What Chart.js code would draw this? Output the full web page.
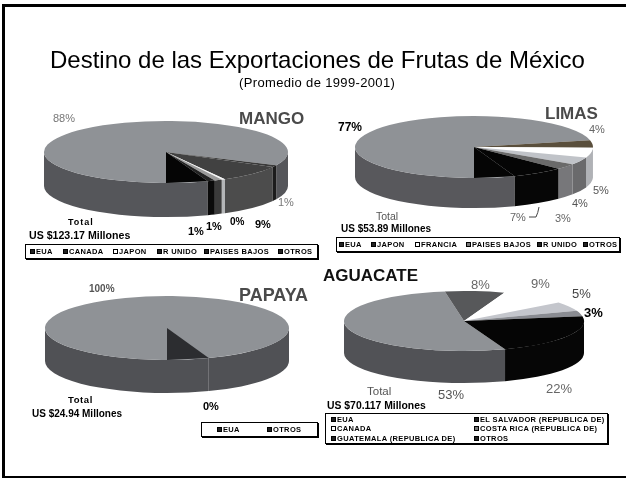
<!DOCTYPE html>
<html>
<head>
<meta charset="utf-8">
<title>Destino de las Exportaciones de Frutas de México</title>
<script src="https://cdn.jsdelivr.net/npm/chart.js@4"></script>
<style>
  html, body { margin: 0; padding: 0; background: #fff; }
  #page { position: relative; width: 626px; height: 478px; overflow: hidden; font-family: "Liberation Sans", Arial, sans-serif; color: #000; }
  /* border runs off the right edge */
  #frame { position: absolute; left: 2px; top: 4px; width: 640px; height: 469px; border: 3px solid #000; }
  canvas { position: absolute; }
  svg { position: absolute; }
  .txt { position: absolute; white-space: nowrap; line-height: 1; }
  .legend { position: absolute; border: 1px solid #000; box-shadow: 1px 1px 0 #000; background: #fff; font-size: 7.5px; font-weight: bold; letter-spacing: .35px; box-sizing: border-box; }
  .legend span { position: absolute; white-space: nowrap; line-height: 9px; }
  .legend i { display: inline-block; width: 5px; height: 5px; margin-right: 1px; box-sizing: border-box; border: 1px solid #000; vertical-align: 0; }
</style>
</head>
<body>
<div id="page"><div id="frame"></div></div>
<script>
// ─── Destino de las exportaciones ───
const title = 'Destino de las Exportaciones de Frutas de México';
const subtitle = '(Promedio de 1999-2001)';

// Values run clockwise from the EUA slice
const mangoLabels = ['EUA', 'OTROS', 'CANADA', 'JAPON', 'R UNIDO', 'PAISES BAJOS'];
const mangoValues = [88, 1, 9, 0.49, 1, 1];
const mangoLegend = ['EUA', 'CANADA', 'JAPON', 'R UNIDO', 'PAISES BAJOS', 'OTROS'];

const limasLabels = ['EUA', 'JAPON', 'FRANCIA', 'PAISES BAJOS', 'R UNIDO', 'OTROS'];
const limasValues = [77, 4, 5, 4, 3, 7];

const papayaLabels = ['EUA', 'OTROS'];
const papayaValues = [100, 0];

const aguacateLabels = ['EUA', 'EL SALVADOR (REPUBLICA DE)', 'CANADA', 'COSTA RICA (REPUBLICA DE)', 'GUATEMALA (REPUBLICA DE)', 'OTROS'];
const aguacateValues = [53, 8, 9, 5, 3, 22];

// top colour / wall colour for each slice
const mangoTop = ['#8f9296', '#3a3a3a', '#414141', '#f4f4f4', '#9a9a9a', '#222222'];
const mangoSide = ['#55565a', '#1c1c1c', '#4c4c4c', '#b4b6b8', '#3a3a3a', '#0a0a0a'];
const limasTop = ['#8f9296', '#5a4f3c', '#ffffff', '#c0c3c8', '#6a6a6a', '#050505'];
const limasSide = ['#58585c', '#96989c', '#b0b2b6', '#6a6a6c', '#77777a', '#060606'];
const papayaTop = ['#8f9296', '#333333'];
const papayaSide = ['#505155', '#333333'];
const aguacateTop = ['#8f9296', '#57585a', '#ffffff', '#c4c6cc', '#8a8c92', '#050505'];
const aguacateSide = ['#515256', '#303030', '#d0d0d0', '#888888', '#555555', '#060606'];

const PIES = [
  { id: 'mango', labels: mangoLabels, values: mangoValues, top: mangoTop, side: mangoSide, cx: 166, cy: 152, rx: 122, ry: 31, depth: 34, notch: '#050505' },
  { id: 'limas', labels: limasLabels, values: limasValues, top: limasTop, side: limasSide, cx: 474, cy: 147, rx: 119, ry: 31, depth: 30, notch: '#050505' },
  { id: 'papaya', labels: papayaLabels, values: papayaValues, top: papayaTop, side: papayaSide, cx: 167, cy: 328, rx: 122, ry: 32, depth: 33, notch: '#2c2d30' },
  { id: 'aguacate', labels: aguacateLabels, values: aguacateValues, top: aguacateTop, side: aguacateSide, cx: 464, cy: 321, rx: 120, ry: 30, depth: 32, notch: null }
];

// EUA starts just right of straight down on all four pies
const START_ANGLE = 160;

// Chart.js only draws round pies, so flatten around the centre and add the walls by hand
const pie3d = {
  id: 'pie3d',
  beforeDatasetsDraw(chart, args, opts) {
    const ctx = chart.ctx;
    const arcs = chart.getDatasetMeta(0).data;
    const k = opts.ry / opts.rx;
    arcs.forEach(function(arc, i) {
      // arc angles are canvas radians, 0 to PI is the front half
      const segs = [[arc.startAngle, arc.endAngle]];
      if (arc.endAngle > Math.PI * 2) segs.push([arc.startAngle - Math.PI * 2, arc.endAngle - Math.PI * 2]);
      segs.forEach(function(seg) {
        const a = Math.max(seg[0], 0), b = Math.min(seg[1], Math.PI);
        if (b <= a) return;
        ctx.beginPath();
        ctx.ellipse(arc.x, arc.y, opts.rx, opts.ry, 0, a, b);
        ctx.ellipse(arc.x, arc.y + opts.depth, opts.rx, opts.ry, 0, b, a, true);
        ctx.closePath();
        ctx.fillStyle = opts.side[i];
        ctx.fill();
      });
    });
    ctx.save();
    ctx.translate(chart.width / 2, chart.height / 2);
    ctx.scale(1, k);
    ctx.translate(-chart.width / 2, -chart.height / 2);
  },
  afterDatasetsDraw(chart, args, opts) {
    const ctx = chart.ctx;
    ctx.restore();
    if (!opts.notch) return;
    // dark wedge between the start of the EUA slice and straight down
    const arc = chart.getDatasetMeta(0).data[0];
    const a = arc.startAngle;
    ctx.beginPath();
    ctx.moveTo(arc.x, arc.y);
    ctx.lineTo(arc.x + Math.cos(a) * opts.rx, arc.y + Math.sin(a) * opts.ry);
    ctx.lineTo(arc.x, arc.y + opts.ry);
    ctx.closePath();
    ctx.fillStyle = opts.notch;
    ctx.fill();
  }
};

const page = document.getElementById('page');

// y is the vertical middle of the text
function addText(str, x, y, size, css) {
  const el = document.createElement('div');
  el.className = 'txt';
  el.textContent = str;
  el.style.left = x + 'px';
  el.style.top = (y - size / 2) + 'px';
  el.style.fontSize = size + 'px';
  if (css) el.style.cssText += css;
  page.appendChild(el);
}

function addPie(p) {
  const size = p.rx * 2 + 4;
  const canvas = document.createElement('canvas');
  canvas.id = p.id + 'Chart';
  canvas.width = size;
  canvas.height = size;
  canvas.style.left = (p.cx - size / 2) + 'px';
  canvas.style.top = (p.cy - size / 2) + 'px';
  page.appendChild(canvas);
  new Chart(canvas.getContext('2d'), {
    type: 'pie',
    data: {
      labels: p.labels,
      datasets: [{ data: p.values, backgroundColor: p.top, borderWidth: 0 }]
    },
    options: {
      responsive: false,
      animation: false,
      rotation: START_ANGLE,
      radius: p.rx,
      events: [],
      plugins: {
        legend: { display: false },
        tooltip: { enabled: false },
        pie3d: { ry: p.ry, rx: p.rx, depth: p.depth, side: p.side, notch: p.notch }
      }
    },
    plugins: [pie3d]
  });
}

function addLegend(x, y, w, h, labels, colors, spots) {
  const box = document.createElement('div');
  box.className = 'legend';
  box.style.cssText = 'left:' + x + 'px;top:' + y + 'px;width:' + w + 'px;height:' + h + 'px';
  labels.forEach(function(name, i) {
    const item = document.createElement('span');
    item.style.left = spots[i][0] + 'px';
    item.style.top = spots[i][1] + 'px';
    const sw = document.createElement('i');
    sw.style.background = colors[i];
    item.appendChild(sw);
    item.appendChild(document.createTextNode(name));
    box.appendChild(item);
  });
  page.appendChild(box);
}

function pctText(v) { return Math.round(v) + '%'; }

PIES.forEach(addPie);

addText(title, 50, 60, 24);
addText(subtitle, 239, 82, 13, 'letter-spacing:.35px;');

// fruit names
addText('MANGO', 239, 118, 17, 'font-weight:bold;color:#4a4a4a;');
addText('LIMAS', 545, 113, 17, 'font-weight:bold;color:#4a4a4a;');
addText('PAPAYA', 239, 295, 18, 'font-weight:bold;color:#4a4a4a;');
addText('AGUACATE', 323, 275, 17, 'font-weight:bold;color:#111;');

// totals
addText('Total', 68, 222, 9, 'font-weight:bold;letter-spacing:1px;');
addText('US $123.17 Millones', 29, 235, 10.6, 'font-weight:bold;');
addText('Total', 376, 216, 10.5, 'color:#555;');
addText('US $53.89 Millones', 341, 229, 10, 'font-weight:bold;');
addText('Total', 68, 400, 9.5, 'font-weight:bold;letter-spacing:.6px;');
addText('US $24.94 Millones', 32, 414, 10, 'font-weight:bold;');
addText('Total', 367, 392, 11.5, 'color:#555;');
addText('US $70.117 Millones', 327, 406, 10.4, 'font-weight:bold;');

// percentage labels
addText(pctText(mangoValues[0]), 53, 118, 11, 'color:#777;');
addText(pctText(mangoValues[1]), 278, 202, 11, 'color:#777;');
addText(pctText(mangoValues[2]), 255, 224, 11, 'font-weight:bold;');
addText(pctText(mangoValues[3]), 230, 222, 10, 'font-weight:bold;');
addText(pctText(mangoValues[4]), 206, 226, 11, 'font-weight:bold;');
addText(pctText(mangoValues[5]), 188, 231, 11, 'font-weight:bold;');

addText(pctText(limasValues[0]), 338, 127, 12, 'font-weight:bold;');
addText(pctText(limasValues[1]), 589, 129, 11, 'color:#666;');
addText(pctText(limasValues[2]), 593, 190, 11, 'color:#555;');
addText(pctText(limasValues[3]), 572, 203, 11, 'color:#555;');
addText(pctText(limasValues[4]), 555, 218, 11, 'color:#666;');
addText(pctText(limasValues[5]), 510, 217, 11, 'color:#666;');

addText(pctText(papayaValues[0]), 89, 289, 10, 'font-weight:bold;color:#555;');
addText(pctText(papayaValues[1]), 203, 406, 11, 'font-weight:bold;');

addText(pctText(aguacateValues[0]), 438, 394, 13, 'color:#555;');
addText(pctText(aguacateValues[1]), 471, 284, 13, 'color:#666;');
addText(pctText(aguacateValues[2]), 531, 283, 13, 'color:#666;');
addText(pctText(aguacateValues[3]), 572, 293, 13, 'color:#444;');
addText(pctText(aguacateValues[4]), 584, 312, 13, 'font-weight:bold;');
addText(pctText(aguacateValues[5]), 546, 388, 13, 'color:#666;');

// leader from the 7% label up to the slice
page.insertAdjacentHTML('beforeend',
  '<svg width="16" height="16" style="left:528px;top:205px"><path d="M1 12 L8 12 Q10 8 11 2" fill="none" stroke="#444" stroke-width="1"/></svg>');

// legends
const mangoSpots = [[4, 2], [37, 2], [87, 2], [131, 2], [178, 2], [252, 2]];
const limasSpots = [[2, 2], [34, 2], [78, 2], [129, 2], [200, 2], [246, 2]];
const papayaSpots = [[15, 2], [65, 2]];
const aguacateSpots = [[5, 1], [148, 1], [5, 10], [148, 10], [5, 20], [148, 20]];
const LEGEND_BLACK = '#222';

addLegend(25, 244, 293, 15, mangoLegend, [LEGEND_BLACK, LEGEND_BLACK, '#fff', LEGEND_BLACK, LEGEND_BLACK, LEGEND_BLACK], mangoSpots);
addLegend(336, 237, 284, 15, limasLabels, [LEGEND_BLACK, LEGEND_BLACK, '#fff', '#777', LEGEND_BLACK, LEGEND_BLACK], limasSpots);
addLegend(201, 422, 117, 15, papayaLabels, [LEGEND_BLACK, LEGEND_BLACK], papayaSpots);
addLegend(325, 413, 283, 31, aguacateLabels, [LEGEND_BLACK, LEGEND_BLACK, '#fff', '#777', LEGEND_BLACK, LEGEND_BLACK], aguacateSpots);
</script>
</body>
</html>
